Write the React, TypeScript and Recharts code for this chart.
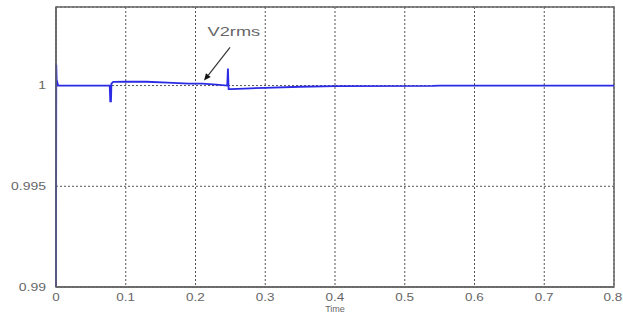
import { LineChart, Line, XAxis, YAxis, CartesianGrid, ReferenceArea, ReferenceLine, ReferenceDot } from "recharts";

// time axis (s) and V2rms trace (pu)
const time = [
  0, 0.0004, 0.0009, 0.003, 0.077, 0.0778, 0.0788, 0.0795, 0.082, 0.1, 0.13, 0.16, 0.19, 0.21, 0.23,
  0.2455, 0.2465, 0.2475, 0.25, 0.27, 0.3, 0.35, 0.4, 0.54, 0.55, 0.8,
];
const v2rms = [
  0.99, 1.00105, 1.0003, 1.0, 1.0, 0.99922, 0.99922, 1.0001, 1.00018, 1.0002, 1.00019, 1.00015, 1.0001,
  1.0001, 1.00005, 1.0, 1.00085, 0.99982, 0.99982, 0.99985, 0.99989, 0.99994, 0.99997, 0.99998, 1.0, 1.0,
];

const xTicks = [0, 0.1, 0.2, 0.3, 0.4, 0.5, 0.6, 0.7, 0.8];
const yTicks = [0.99, 0.995, 1];
const yDomain = [0.99, 1.0039];

// annotation arrow: tail then head, in data units
const arrowTail = { x: 0.2495, y: 1.00189 };
const arrowHead = { x: 0.2122, y: 1.00025 };
const labelAt = { x: 0.255, y: 1.00268 };

const data = time.map((t, i) => ({ t, v: v2rms[i] }));

const TEXT = "#666";
const FONT = "Liberation Sans, Arial, sans-serif";

function XTick({ x, y, payload }: any) {
  return (
    <text
      transform={`translate(${x},${y + 6}) scale(1.35,1)`}
      textAnchor="middle"
      fontSize={10}
      fontFamily={FONT}
      fill={TEXT}
    >
      {payload.value}
    </text>
  );
}

function YTick({ x, y, payload }: any) {
  return (
    <text
      transform={`translate(${x - 2},${y + 3.5}) scale(1.4,1)`}
      textAnchor="end"
      fontSize={10}
      fontFamily={FONT}
      fill={TEXT}
    >
      {payload.value}
    </text>
  );
}

function Arrow(props: any) {
  const { x1, y1, x2, y2 } = props;
  if (x1 == null) return null;
  const ang = Math.atan2(y2 - y1, x2 - x1);
  const len = 7;
  const w = 3;
  const bx = x2 - len * Math.cos(ang);
  const by = y2 - len * Math.sin(ang);
  const px = -Math.sin(ang) * w;
  const py = Math.cos(ang) * w;
  return (
    <g>
      <line x1={x1} y1={y1} x2={bx} y2={by} stroke="#333" strokeWidth={1.2} />
      <polygon points={`${x2},${y2} ${bx + px},${by + py} ${bx - px},${by - py}`} fill="#111" />
    </g>
  );
}

function Label({ viewBox }: any) {
  const cx = viewBox.x + (viewBox.width || 0) / 2;
  const cy = viewBox.y + (viewBox.height || 0) / 2;
  return (
    <text
      transform={`translate(${cx},${cy + 4.5}) scale(1.4,1)`}
      textAnchor="middle"
      fontSize={13}
      fontFamily={FONT}
      fill={TEXT}
    >
      V2rms
    </text>
  );
}

export default function App() {
  return (
    <div style={{ position: "absolute", left: 0, top: 0, width: 623, height: 324, background: "#fff" }}>
      <LineChart width={623} height={324} data={data} margin={{ top: 7, right: 9, left: 0, bottom: 0 }}>
        <CartesianGrid stroke="#555" strokeDasharray="2 2" />
        <XAxis
          dataKey="t"
          type="number"
          domain={[0, 0.8]}
          ticks={xTicks}
          height={37}
          tick={<XTick />}
          tickLine={false}
          axisLine={{ stroke: "#666", strokeWidth: 1.5 }}
          label={{ value: "Time", position: "insideBottom", offset: 12, fontSize: 9, fill: TEXT, fontFamily: FONT }}
        />
        <YAxis
          type="number"
          domain={yDomain}
          ticks={yTicks}
          width={56}
          tick={<YTick />}
          tickLine={false}
          axisLine={{ stroke: "#666", strokeWidth: 1.5 }}
          allowDataOverflow
        />
        <ReferenceArea
          x1={0}
          x2={0.8}
          y1={yDomain[0]}
          y2={yDomain[1]}
          fill="none"
          stroke="#666"
          strokeWidth={1.5}
          fillOpacity={0}
        />
        <Line
          type="linear"
          dataKey="v"
          stroke="#2b2be6"
          strokeWidth={1.8}
          dot={false}
          isAnimationActive={false}
        />
        <ReferenceLine
          segment={[arrowTail, arrowHead]}
          shape={<Arrow />}
        />
        <ReferenceDot x={labelAt.x} y={labelAt.y} r={0} fill="none" stroke="none" label={<Label />} />
      </LineChart>
    </div>
  );
}
